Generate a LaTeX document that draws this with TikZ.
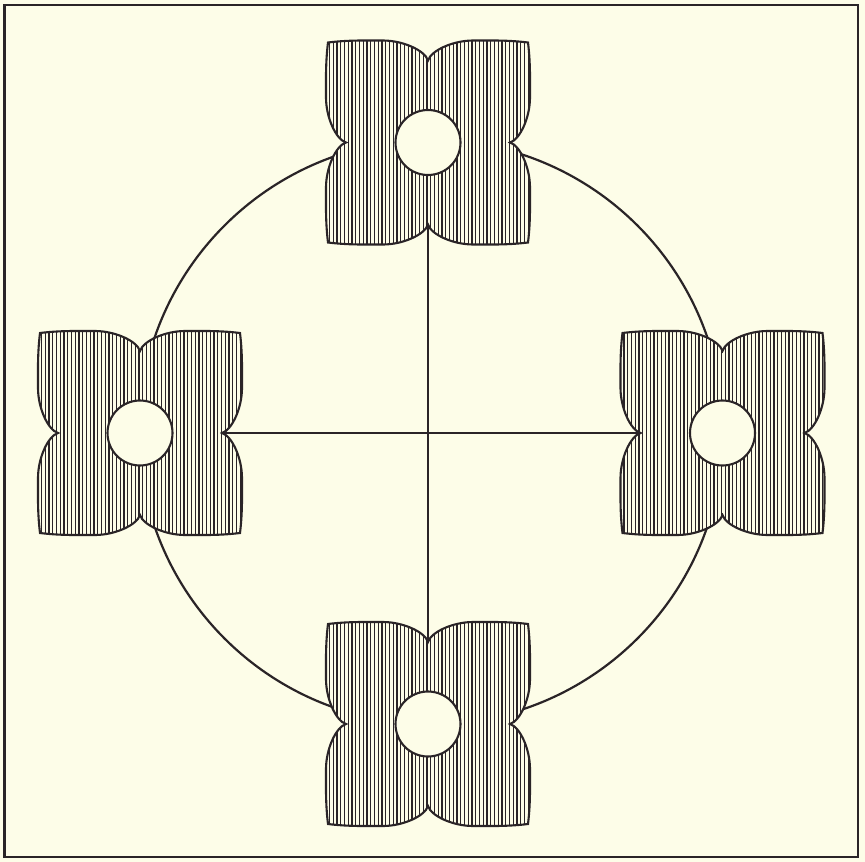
\documentclass[tikz,border=0pt]{standalone}
\usetikzlibrary{calc}
\definecolor{paper}{HTML}{FDFDE8}
\definecolor{ink}{HTML}{2A2427}
\tikzset{
  outline/.style={draw=ink,line width=2.1pt,line join=miter},
  hatch/.style={draw=ink,line width=1.15pt},
  rule/.style={draw=ink,line width=2.2pt},
}
\newcommand{\motifpath}{
  (-100,-100) .. controls (-80,-102.5) and (-62,-102) .. (-45,-102)
  .. controls (-25,-102) and (-3,-92) .. (0,-82)
  .. controls (3,-92) and (25,-102) .. (45,-102)
  .. controls (62,-102) and (80,-102.5) .. (100,-100)
  .. controls (102.5,-80) and (102,-62) .. (102,-45)
  .. controls (102,-25) and (92,-3) .. (82,0)
  .. controls (92,3) and (102,25) .. (102,45)
  .. controls (102,62) and (102.5,80) .. (100,100)
  .. controls (80,102.5) and (62,102) .. (45,102)
  .. controls (25,102) and (3,92) .. (0,82)
  .. controls (-3,92) and (-25,102) .. (-45,102)
  .. controls (-62,102) and (-80,102.5) .. (-100,100)
  .. controls (-102.5,80) and (-102,62) .. (-102,45)
  .. controls (-102,25) and (-92,3) .. (-82,0)
  .. controls (-92,-3) and (-102,-25) .. (-102,-45)
  .. controls (-102,-62) and (-102.5,-80) .. (-100,-100) -- cycle}
\newcommand{\motif}[3]{%
  \begin{scope}[shift={(#2,#3)}]
    \fill[paper] \motifpath;
    \begin{scope}
      \clip \motifpath;
      \foreach \k in {0,...,58} {\draw[hatch] ({-106+3.75*\k},-115) -- ({-106+3.75*\k},115);}
    \end{scope}
    \path[outline] \motifpath;
    \fill[paper,draw=ink,line width=2.1pt] (0,0) circle (32.5);
    \coordinate (#1-n) at (0,-82);
    \coordinate (#1-s) at (0,82);
    \coordinate (#1-e) at (82,0);
    \coordinate (#1-w) at (-82,0);
  \end{scope}}
\begin{document}
\begin{tikzpicture}[x=1pt,y=-1pt]
  \fill[paper] (0,0) rectangle (865,862);
  \useasboundingbox (0,0) rectangle (865,862);
  \draw[ink,line width=2.6pt] (4.5,5) rectangle (858,857);
  \coordinate (ring) at (431,432);
  \draw[rule] (ring) circle (292);
  \motif{top}{428}{142.5}
  \motif{left}{140}{433}
  \motif{right}{722.5}{433}
  \motif{bottom}{428}{724}
  \draw[rule] (top-s) -- (bottom-n);
  \draw[rule] (left-e) -- (right-w);
\end{tikzpicture}
\end{document}
